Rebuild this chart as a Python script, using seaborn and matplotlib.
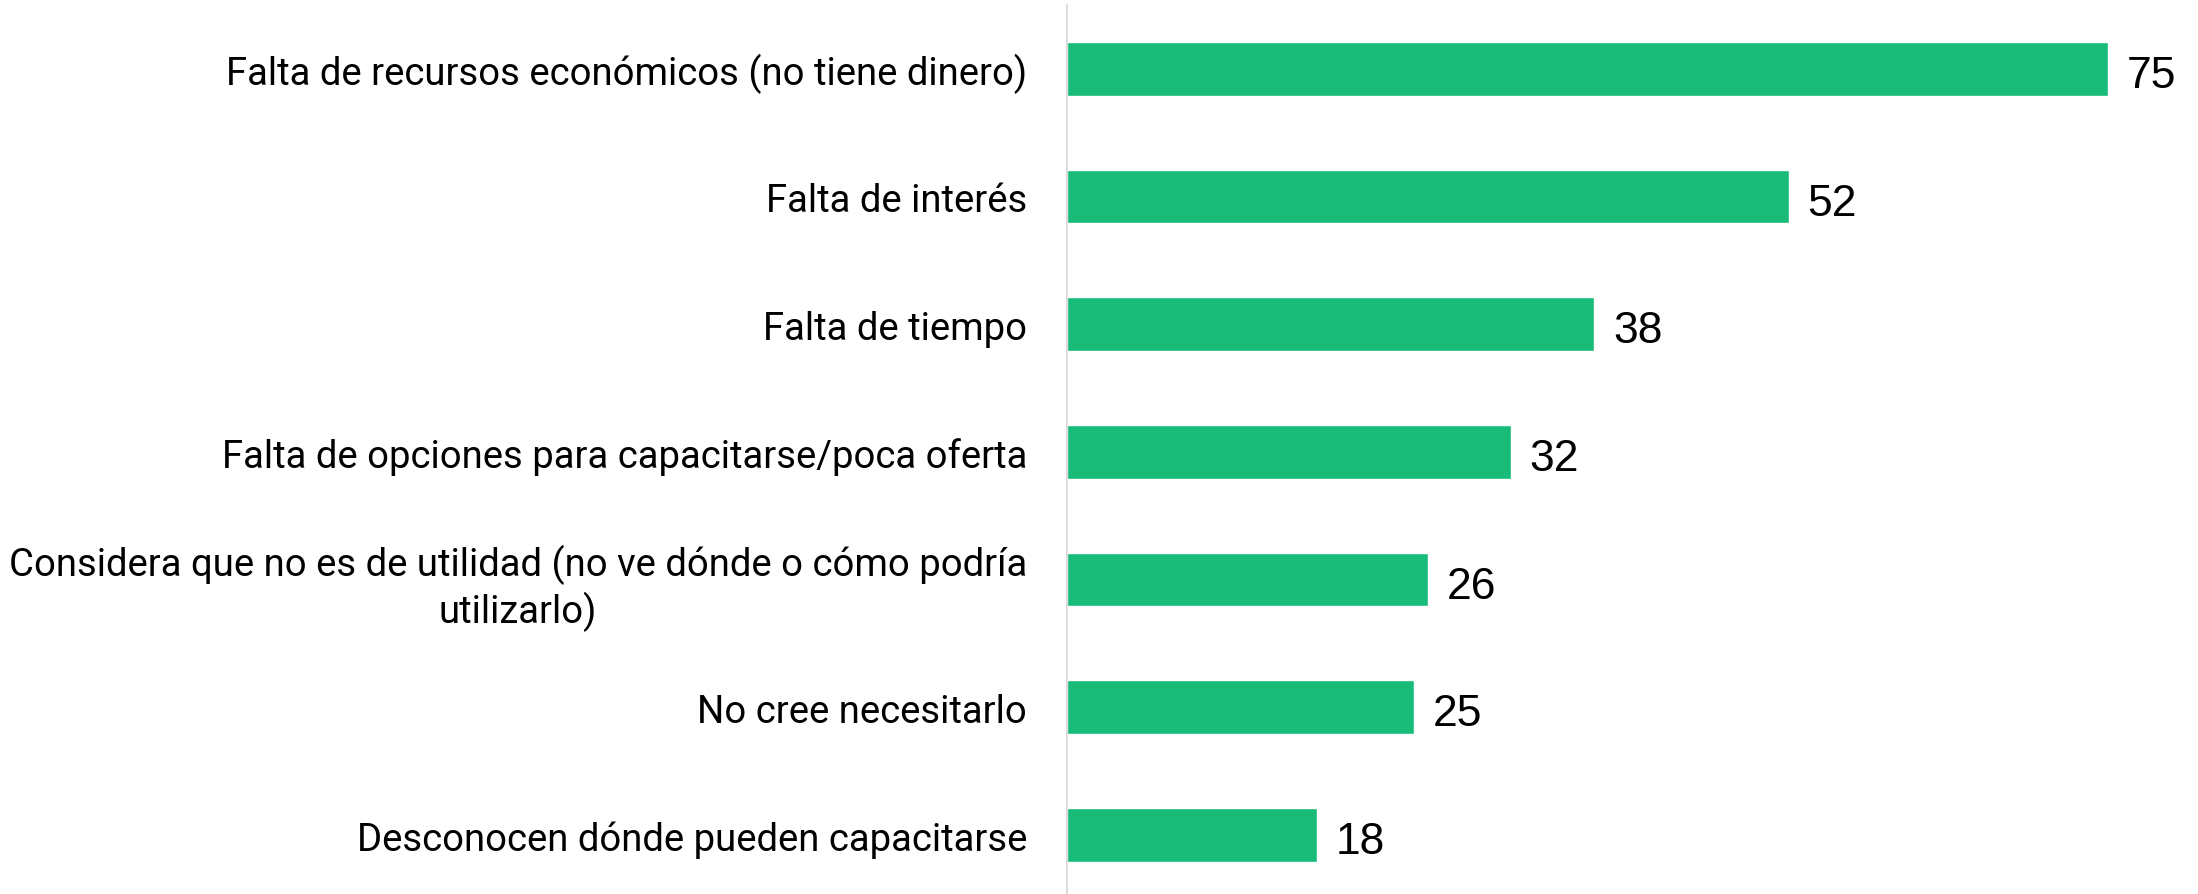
import pandas as pd
import matplotlib
matplotlib.use("Agg")
import matplotlib.pyplot as plt
import seaborn as sns

categorias = [
    "Falta de recursos económicos (no tiene dinero)",
    "Falta de interés",
    "Falta de tiempo",
    "Falta de opciones para capacitarse/poca oferta",
    "Considera que no es de utilidad (no ve dónde o cómo podría\nutilizarlo)",
    "No cree necesitarlo",
    "Desconocen dónde pueden capacitarse",
]
valores = [75, 52, 38, 32, 26, 25, 18]

data = pd.DataFrame({"motivo": categorias, "pct": valores})

sns.set_style("white")
plt.rcParams["font.family"] = ["Roboto", "DejaVu Sans"]

fig = plt.figure(figsize=(21.98, 8.95), dpi=100)
ax = fig.add_axes([1067 / 2198, 0, 1131 / 2198, 889 / 895])

sns.barplot(data=data, y="motivo", x="pct", orient="h", color="#18BC78",
            width=0.42, saturation=1, ax=ax)

# etiquetas de valor al final de cada barra
for i, v in enumerate(valores):
    ax.annotate(str(v), xy=(v, i), xytext=(13.5, -13), textcoords="offset points",
                va="baseline", ha="left", fontsize=32,
                family=["Liberation Sans", "DejaVu Sans"], color="black")

ax.set_xlim(0, 81.5)
ax.set_ylim(6.462, -0.5)
ax.set_xlabel("")
ax.set_ylabel("")
ax.set_xticks([])
ax.tick_params(axis="y", length=0, pad=28.8, labelsize=27.5)
for lab in ax.get_yticklabels():
    lab.set_multialignment("center")
    lab.set_color("black")

sns.despine(ax=ax, top=True, right=True, bottom=True, left=False)
ax.spines["left"].set_color("#d9d9d9")
ax.spines["left"].set_linewidth(1.3)

fig.savefig("out.png", dpi=100)
